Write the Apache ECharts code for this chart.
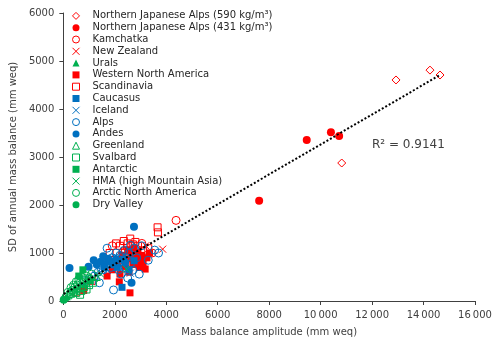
<!DOCTYPE html>
<html>
<head>
<meta charset="utf-8">
<script src="https://cdn.jsdelivr.net/npm/echarts@6/dist/echarts.min.js"></script>
<style>
  html, body { margin: 0; padding: 0; background: #fff; }
  #main { width: 500px; height: 348px; }
</style>
</head>
<body>
<div id="main"></div>
<script>
// [amplitude mm weq, SD mm weq]
var japan590 = [[10820, 2875], [12930, 4605], [14250, 4810], [14640, 4708]];
var japan431 = [[7610, 2090], [9460, 3355], [10400, 3515], [10720, 3437]];
var kamchatka = [[4380, 1680], [1900, 1150], [2300, 1000], [2650, 1150], [3050, 1200], [3450, 1000]];
var newZealand = [[3860, 1080], [3200, 1150], [2900, 1050]];
var urals = [[150, 90], [850, 330]];
var westernNA = [[790, 220], [1700, 520], [1900, 650], [2100, 800], [2175, 400], [2300, 950], [2400, 720],
  [2500, 1050], [2590, 170], [2600, 880], [2650, 980], [2700, 760], [2750, 1100], [2800, 900], [2850, 820],
  [2900, 1000], [2950, 700], [3000, 870], [3050, 950], [3100, 780], [3180, 665], [3250, 900], [3350, 1000],
  [2550, 600], [2200, 560]];
var scandinavia = [[500, 180], [1100, 420], [1800, 1000], [2050, 1200], [2200, 1150], [2350, 1250], [2500, 1200],
  [2600, 1300], [2700, 1180], [2900, 1150], [3100, 1050], [3300, 1100], [3663, 1535], [3677, 1430],
  [2400, 1050], [2800, 1230]];
var caucasus = [[2280, 285], [1600, 760], [1850, 820], [2100, 700], [2350, 870], [2550, 650], [2750, 840]];
var iceland = [[1250, 560], [1700, 640], [2000, 920], [2300, 760], [2600, 580]];
var alps = [[1000, 450], [1200, 520], [1350, 600], [1450, 700], [1550, 650], [1650, 760], [1700, 1100],
  [1750, 850], [1850, 700], [1900, 900], [1950, 230], [2000, 780], [2050, 1000], [2100, 880], [2150, 650],
  [2200, 950], [2250, 560], [2300, 820], [2350, 1050], [2400, 700], [2450, 900], [2500, 480], [2550, 1000],
  [2600, 760], [2700, 640], [2750, 1100], [2850, 900], [2950, 560], [3050, 1150], [3300, 850], [3550, 1060],
  [3700, 1000], [800, 420], [1400, 380], [2600, 1160]];
var andes = [[240, 690], [2745, 1548], [980, 715], [1180, 850], [1300, 760], [1450, 820], [1600, 700],
  [1750, 880], [1900, 760], [2050, 870], [1550, 930], [2400, 800], [2650, 380]];
var greenland = [[200, 120], [450, 260], [900, 380], [1300, 500]];
var svalbard = [[300, 150], [400, 220], [500, 170], [600, 260], [700, 210], [800, 290], [900, 240],
  [1000, 330], [650, 130], [1150, 380]];
var antarctic = [[760, 650], [1050, 420], [600, 520]];
var hma = [[700, 340], [950, 500], [1200, 470], [1450, 560], [2450, 660]];
var arcticNA = [[100, 80], [180, 180], [250, 150], [300, 280], [350, 220], [400, 330], [450, 290], [500, 400],
  [550, 330], [600, 450], [650, 380], [700, 500], [800, 440], [900, 520], [1000, 480], [1100, 560],
  [750, 300], [420, 180]];
var dryValley = [[15, 25]];
// dotted linear trend
var trendLine = [[15, 148], [14640, 4708]];
var rSquared = 'R\u00b2 = 0.9141';

var RED = '#ff0000', BLUE = '#0070c0', GREEN = '#00b050';
var CROSS = 'path://M0,0L10,10M0,10L10,0';

// name, data, symbol, colour, hollow, size
var groups = [
  ['Northern Japanese Alps (590 kg/m\u00b3)', japan590, 'diamond', RED, true, 8],
  ['Northern Japanese Alps (431 kg/m\u00b3)', japan431, 'circle', RED, false, 8],
  ['Kamchatka', kamchatka, 'circle', RED, true, 8],
  ['New Zealand', newZealand, CROSS, RED, true, 7],
  ['Urals', urals, 'triangle', GREEN, false, 7],
  ['Western North America', westernNA, 'rect', RED, false, 7],
  ['Scandinavia', scandinavia, 'rect', RED, true, 7],
  ['Caucasus', caucasus, 'rect', BLUE, false, 7],
  ['Iceland', iceland, CROSS, BLUE, true, 7],
  ['Alps', alps, 'circle', BLUE, true, 8],
  ['Andes', andes, 'circle', BLUE, false, 8],
  ['Greenland', greenland, 'triangle', GREEN, true, 7],
  ['Svalbard', svalbard, 'rect', GREEN, true, 7],
  ['Antarctic', antarctic, 'rect', GREEN, false, 7],
  ['HMA (high Mountain Asia)', hma, CROSS, GREEN, true, 7],
  ['Arctic North America', arcticNA, 'circle', GREEN, true, 8],
  ['Dry Valley', dryValley, 'circle', GREEN, false, 8]
];

var FONT = 'DejaVu Sans';
var TEXT = '#404040';

var series = groups.map(function (g) {
  return {
    name: g[0],
    type: 'scatter',
    data: g[1],
    symbol: g[2],
    symbolSize: g[5],
    symbolKeepAspect: true,
    itemStyle: g[4]
      ? { color: 'transparent', borderColor: g[3], borderWidth: 1, opacity: 1 }
      : { color: g[3], opacity: 1 },
    emphasis: { disabled: true }
  };
});
series.push({
  name: 'trend',
  type: 'line',
  data: trendLine,
  symbol: 'none',
  lineStyle: { color: '#000', width: 2, type: [2, 2] },
  z: 5,
  silent: true
});

function fmt(v) {
  if (v >= 10000) return Math.floor(v / 1000) + '\u2009' + String(v % 1000).padStart(3, '0');
  return String(v);
}

var chart = echarts.init(document.getElementById('main'));
chart.setOption({
  animation: false,
  backgroundColor: '#fff',
  grid: { left: 63, right: 25, top: 13, bottom: 47 },
  legend: {
    orient: 'vertical',
    left: 72,
    top: 10,
    data: groups.map(function (g) { return g[0]; }),
    selectedMode: false,
    itemWidth: 7,
    itemHeight: 7,
    itemGap: 0,
    padding: 0,
    textStyle: { fontFamily: FONT, fontSize: 10, color: '#262626', lineHeight: 11.8, padding: [0, 0, 0, 8] },
    itemStyle: { borderWidth: 1 }
  },
  xAxis: {
    type: 'value',
    min: 0, max: 16000, interval: 2000,
    name: 'Mass balance amplitude (mm weq)',
    nameLocation: 'middle',
    nameGap: 26,
    nameTextStyle: { fontFamily: FONT, fontSize: 10, color: TEXT },
    axisLine: { show: true, lineStyle: { color: '#404040', width: 1 } },
    axisTick: { show: true, length: 4, lineStyle: { color: '#404040' } },
    axisLabel: { fontFamily: FONT, fontSize: 10, color: TEXT, margin: 9, formatter: fmt },
    splitLine: { show: false }
  },
  yAxis: {
    type: 'value',
    min: 0, max: 6000, interval: 1000,
    name: 'SD of annual mass balance (mm weq)',
    nameLocation: 'middle',
    nameGap: 42,
    nameTextStyle: { fontFamily: FONT, fontSize: 10, color: TEXT },
    axisLine: { show: true, lineStyle: { color: '#404040', width: 1 } },
    axisTick: { show: true, length: 4, lineStyle: { color: '#404040' } },
    axisLabel: { fontFamily: FONT, fontSize: 10, color: TEXT, margin: 9, formatter: fmt },
    splitLine: { show: false }
  },
  graphic: [{
    type: 'text',
    left: 372,
    top: 139,
    style: { text: rSquared, font: '12px "DejaVu Sans"', fill: TEXT }
  }],
  series: series
});
</script>
</body>
</html>
